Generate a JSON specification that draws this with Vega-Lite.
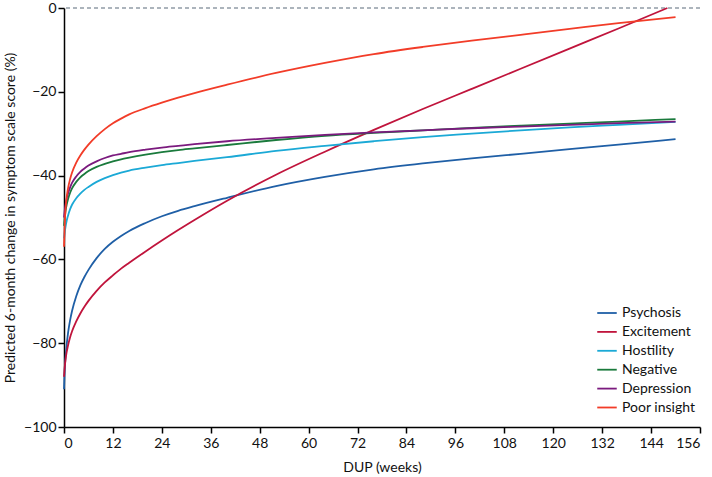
{
  "$schema": "https://vega.github.io/schema/vega-lite/v6.json",
  "width": 636,
  "height": 419,
  "autosize": "none",
  "padding": {"left": 64, "top": 8, "right": 12, "bottom": 50},
  "background": "white",
  "config": {
    "view": {"stroke": null},
    "font": "Lato",
    "axis": {"labelFont": "Lato", "titleFont": "Lato", "labelFontSize": 14, "titleFontSize": 14, "titleFontWeight": "normal", "labelColor": "#111", "titleColor": "#111", "domainColor": "#000", "tickColor": "#000", "domainWidth": 1.5, "tickWidth": 1.5, "tickSize": 6, "grid": false}
  },
  "datasets": {
    "curves": [
      {"s":"Psychosis","x":0,"y":-91},{"s":"Psychosis","x":0.25,"y":-85},{"s":"Psychosis","x":0.5,"y":-82},{"s":"Psychosis","x":1,"y":-77.5},{"s":"Psychosis","x":1.5,"y":-74.5},{"s":"Psychosis","x":2,"y":-72.2},{"s":"Psychosis","x":3,"y":-68.8},{"s":"Psychosis","x":4,"y":-66.2},{"s":"Psychosis","x":5,"y":-64.2},{"s":"Psychosis","x":6,"y":-62.5},{"s":"Psychosis","x":8,"y":-59.7},{"s":"Psychosis","x":10,"y":-57.5},{"s":"Psychosis","x":12,"y":-55.8},{"s":"Psychosis","x":14,"y":-54.4},{"s":"Psychosis","x":16,"y":-53.2},{"s":"Psychosis","x":20,"y":-51.3},{"s":"Psychosis","x":24,"y":-49.7},{"s":"Psychosis","x":28,"y":-48.4},{"s":"Psychosis","x":32,"y":-47.3},{"s":"Psychosis","x":40,"y":-45.3},{"s":"Psychosis","x":52,"y":-42.5},{"s":"Psychosis","x":64,"y":-40.3},{"s":"Psychosis","x":76,"y":-38.5},{"s":"Psychosis","x":88,"y":-37.1},{"s":"Psychosis","x":100,"y":-35.9},{"s":"Psychosis","x":112,"y":-34.8},{"s":"Psychosis","x":124,"y":-33.7},{"s":"Psychosis","x":136,"y":-32.6},{"s":"Psychosis","x":150,"y":-31.3},
      {"s":"Excitement","x":0,"y":-88},{"s":"Excitement","x":0.25,"y":-85},{"s":"Excitement","x":0.5,"y":-83},{"s":"Excitement","x":1,"y":-80.5},{"s":"Excitement","x":1.5,"y":-78.6},{"s":"Excitement","x":2,"y":-77.1},{"s":"Excitement","x":3,"y":-74.8},{"s":"Excitement","x":4,"y":-72.9},{"s":"Excitement","x":5,"y":-71.3},{"s":"Excitement","x":6,"y":-69.9},{"s":"Excitement","x":8,"y":-67.5},{"s":"Excitement","x":10,"y":-65.5},{"s":"Excitement","x":12,"y":-63.8},{"s":"Excitement","x":14,"y":-62.2},{"s":"Excitement","x":16,"y":-60.8},{"s":"Excitement","x":20,"y":-58.1},{"s":"Excitement","x":24,"y":-55.5},{"s":"Excitement","x":28,"y":-53},{"s":"Excitement","x":32,"y":-50.6},{"s":"Excitement","x":40,"y":-46.0},{"s":"Excitement","x":52,"y":-39.8},{"s":"Excitement","x":64,"y":-34.3},{"s":"Excitement","x":76,"y":-29.1},{"s":"Excitement","x":88,"y":-24.1},{"s":"Excitement","x":100,"y":-19.3},{"s":"Excitement","x":112,"y":-14.5},{"s":"Excitement","x":124,"y":-9.7},{"s":"Excitement","x":136,"y":-4.9},{"s":"Excitement","x":148,"y":0},
      {"s":"Hostility","x":0,"y":-55},{"s":"Hostility","x":0.25,"y":-53},{"s":"Hostility","x":0.5,"y":-51.5},{"s":"Hostility","x":1,"y":-49.5},{"s":"Hostility","x":1.5,"y":-48},{"s":"Hostility","x":2,"y":-46.9},{"s":"Hostility","x":3,"y":-45.4},{"s":"Hostility","x":4,"y":-44.3},{"s":"Hostility","x":5,"y":-43.4},{"s":"Hostility","x":6,"y":-42.7},{"s":"Hostility","x":8,"y":-41.5},{"s":"Hostility","x":10,"y":-40.6},{"s":"Hostility","x":12,"y":-39.9},{"s":"Hostility","x":14,"y":-39.3},{"s":"Hostility","x":16,"y":-38.8},{"s":"Hostility","x":20,"y":-38.1},{"s":"Hostility","x":24,"y":-37.5},{"s":"Hostility","x":28,"y":-37},{"s":"Hostility","x":32,"y":-36.5},{"s":"Hostility","x":40,"y":-35.6},{"s":"Hostility","x":52,"y":-34.1},{"s":"Hostility","x":64,"y":-32.9},{"s":"Hostility","x":76,"y":-31.8},{"s":"Hostility","x":88,"y":-30.8},{"s":"Hostility","x":100,"y":-30.0},{"s":"Hostility","x":112,"y":-29.2},{"s":"Hostility","x":124,"y":-28.5},{"s":"Hostility","x":136,"y":-27.9},{"s":"Hostility","x":150,"y":-27.2},
      {"s":"Negative","x":0,"y":-52},{"s":"Negative","x":0.25,"y":-49.5},{"s":"Negative","x":0.5,"y":-47.7},{"s":"Negative","x":1,"y":-45.6},{"s":"Negative","x":1.5,"y":-44.1},{"s":"Negative","x":2,"y":-43},{"s":"Negative","x":3,"y":-41.5},{"s":"Negative","x":4,"y":-40.4},{"s":"Negative","x":5,"y":-39.6},{"s":"Negative","x":6,"y":-38.9},{"s":"Negative","x":8,"y":-37.9},{"s":"Negative","x":10,"y":-37.2},{"s":"Negative","x":12,"y":-36.6},{"s":"Negative","x":14,"y":-36.1},{"s":"Negative","x":16,"y":-35.7},{"s":"Negative","x":20,"y":-35},{"s":"Negative","x":24,"y":-34.4},{"s":"Negative","x":28,"y":-33.9},{"s":"Negative","x":32,"y":-33.5},{"s":"Negative","x":40,"y":-32.7},{"s":"Negative","x":52,"y":-31.5},{"s":"Negative","x":64,"y":-30.5},{"s":"Negative","x":76,"y":-29.8},{"s":"Negative","x":88,"y":-29.2},{"s":"Negative","x":100,"y":-28.6},{"s":"Negative","x":112,"y":-28.1},{"s":"Negative","x":124,"y":-27.6},{"s":"Negative","x":136,"y":-27.1},{"s":"Negative","x":150,"y":-26.5},
      {"s":"Depression","x":0,"y":-50},{"s":"Depression","x":0.25,"y":-47.8},{"s":"Depression","x":0.5,"y":-46.2},{"s":"Depression","x":1,"y":-44.2},{"s":"Depression","x":1.5,"y":-42.8},{"s":"Depression","x":2,"y":-41.7},{"s":"Depression","x":3,"y":-40.2},{"s":"Depression","x":4,"y":-39.1},{"s":"Depression","x":5,"y":-38.3},{"s":"Depression","x":6,"y":-37.6},{"s":"Depression","x":8,"y":-36.6},{"s":"Depression","x":10,"y":-35.8},{"s":"Depression","x":12,"y":-35.2},{"s":"Depression","x":14,"y":-34.8},{"s":"Depression","x":16,"y":-34.4},{"s":"Depression","x":20,"y":-33.8},{"s":"Depression","x":24,"y":-33.3},{"s":"Depression","x":28,"y":-32.9},{"s":"Depression","x":32,"y":-32.5},{"s":"Depression","x":40,"y":-31.8},{"s":"Depression","x":52,"y":-31},{"s":"Depression","x":64,"y":-30.3},{"s":"Depression","x":76,"y":-29.7},{"s":"Depression","x":88,"y":-29.2},{"s":"Depression","x":100,"y":-28.7},{"s":"Depression","x":112,"y":-28.3},{"s":"Depression","x":124,"y":-27.9},{"s":"Depression","x":136,"y":-27.5},{"s":"Depression","x":150,"y":-27.1},
      {"s":"Poor insight","x":0,"y":-57},{"s":"Poor insight","x":0.25,"y":-50},{"s":"Poor insight","x":0.5,"y":-46.5},{"s":"Poor insight","x":1,"y":-43},{"s":"Poor insight","x":1.5,"y":-40.8},{"s":"Poor insight","x":2,"y":-39.2},{"s":"Poor insight","x":3,"y":-36.9},{"s":"Poor insight","x":4,"y":-35.2},{"s":"Poor insight","x":5,"y":-33.8},{"s":"Poor insight","x":6,"y":-32.6},{"s":"Poor insight","x":8,"y":-30.6},{"s":"Poor insight","x":10,"y":-28.9},{"s":"Poor insight","x":12,"y":-27.5},{"s":"Poor insight","x":14,"y":-26.4},{"s":"Poor insight","x":16,"y":-25.4},{"s":"Poor insight","x":20,"y":-23.9},{"s":"Poor insight","x":24,"y":-22.6},{"s":"Poor insight","x":28,"y":-21.4},{"s":"Poor insight","x":32,"y":-20.3},{"s":"Poor insight","x":40,"y":-18.3},{"s":"Poor insight","x":52,"y":-15.5},{"s":"Poor insight","x":64,"y":-13.1},{"s":"Poor insight","x":76,"y":-11.0},{"s":"Poor insight","x":88,"y":-9.3},{"s":"Poor insight","x":100,"y":-7.8},{"s":"Poor insight","x":112,"y":-6.4},{"s":"Poor insight","x":124,"y":-5.0},{"s":"Poor insight","x":136,"y":-3.6},{"s":"Poor insight","x":150,"y":-2.2}
    ],
    "zero": [{"y": 0}]
  },
  "layer": [
    {
      "data": {"name": "zero"},
      "mark": {"type": "rule", "stroke": "#5b6b7b", "strokeDash": [4, 3], "strokeWidth": 1.2},
      "encoding": {"y": {"field": "y", "type": "quantitative", "scale": {"domain": [-100, 0]}}}
    },
    {
      "data": {"name": "curves"},
      "mark": {"type": "line", "interpolate": "monotone", "strokeWidth": 1.8},
      "encoding": {
        "x": {"field": "x", "type": "quantitative", "scale": {"domain": [0, 156], "nice": false}, "axis": {"values": [0,12,24,36,48,60,72,84,96,108,120,132,144,156], "title": "DUP (weeks)", "titlePadding": 10, "labelPadding": 3}},
        "y": {"field": "y", "type": "quantitative", "scale": {"domain": [-100, 0], "nice": false}, "axis": {"values": [-100,-80,-60,-40,-20,0], "title": "Predicted 6-month change in symptom scale score (%)", "titlePadding": 6, "labelPadding": 2}},
        "color": {"field": "s", "type": "nominal", "scale": {"domain": ["Psychosis","Excitement","Hostility","Negative","Depression","Poor insight"], "range": ["#1f5fa6","#c0143c","#1ba9d6","#1a7a3c","#7b1a7e","#f23c28"]},
          "legend": {"title": null, "orient": "none", "legendX": 532, "legendY": 294, "symbolType": "stroke", "symbolSize": 380, "symbolStrokeWidth": 1.8, "labelFontSize": 14, "labelFont": "Lato", "labelColor": "#111", "rowPadding": 0.9, "labelOffset": 4}}
      }
    }
  ]
}
